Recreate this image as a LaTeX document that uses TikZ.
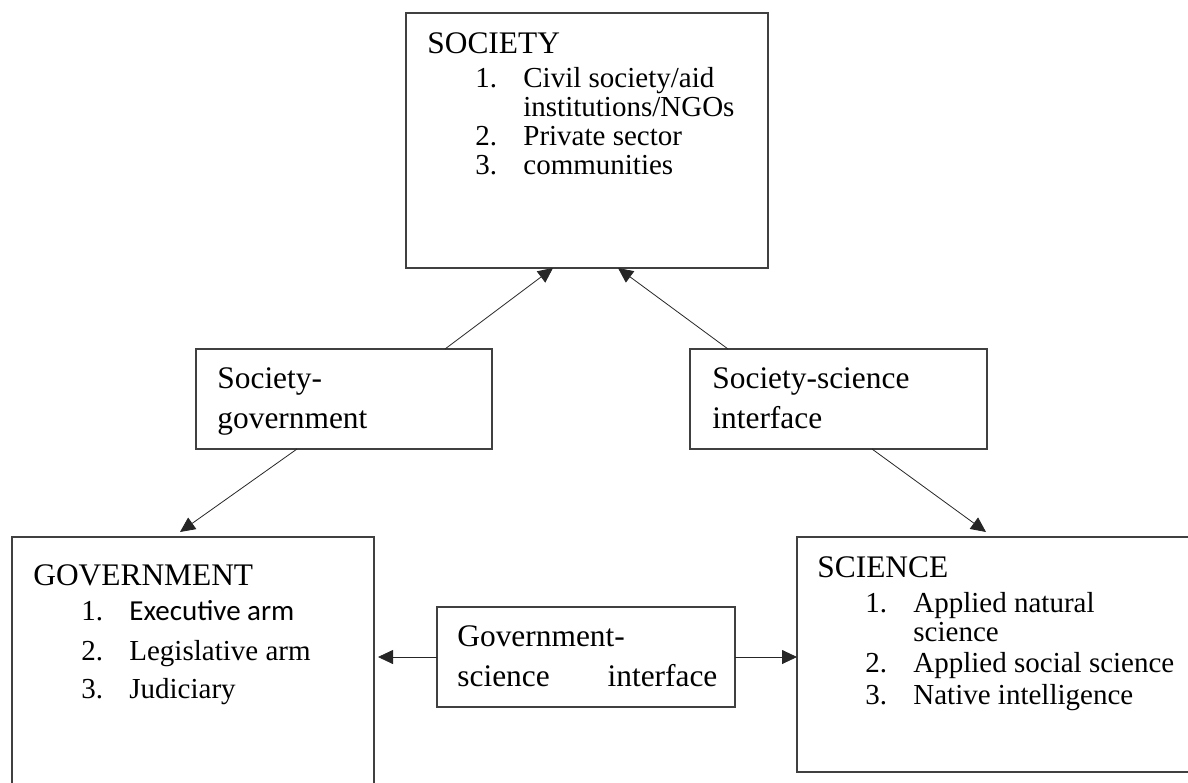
\documentclass[tikz,border=0pt]{standalone}
\usepackage{fontspec}
\setmainfont{Liberation Serif}
\newfontfamily\calibrifont{Carlito}
\usetikzlibrary{calc, arrows.meta}

\newcommand{\headsize}{\fontsize{15.7}{20}\selectfont}
\newcommand{\listsize}{\fontsize{14.5}{14.5}\selectfont}

\begin{document}
\begin{tikzpicture}[
      x=0.5pt, y=-0.5pt,
      box/.style={draw=black!75, line width=0.55pt, inner sep=0pt, outer sep=0pt},
      head/.style={anchor=base west, inner sep=0pt, font=\headsize},
      list/.style={anchor=base west, inner sep=0pt, font=\listsize},
      arr/.style={-{Triangle[length=7.5pt, width=7pt]}, line width=0.4pt, black!85}
   ]
      \useasboundingbox (0,0) rectangle (1188,782);
      \clip (0,0) rectangle (1188,782);

      % the three main boxes
      \node[box, minimum width=181pt, minimum height=127.5pt] (soc) at (587,140.5) {};
      \node[box, minimum width=181pt, minimum height=141.5pt] (gov) at (193,678.5) {};
      \node[box, minimum width=201.5pt, minimum height=117.5pt] (sci) at (998.5,654.5) {};

      % the interface boxes
      \node[box, minimum width=148pt, minimum height=50pt] (sg) at (344,399) {};
      \node[box, minimum width=148.5pt, minimum height=50pt] (ss) at (838.5,399) {};
      \node[box, minimum width=149pt, minimum height=50pt] (gs) at (586,657) {};

      % texts
      \node[head] (socHead) at ($(soc.north west)+(21,40)$) {SOCIETY};
      \node[list] (socList) at ($(socHead.base west)+(0,34)$) {%
         \begin{tabular}[t]{@{}p{24pt}@{}p{24pt}@{}l@{}}
            & 1. & Civil society/aid\\
            &    & institutions/NGOs\\
            & 2. & Private sector\\
            & 3. & communities
         \end{tabular}};

      \node[head] (govHead) at ($(gov.north west)+(21,48)$) {GOVERNMENT};
      \node[list] (govList) at ($(govHead.base west)+(0,35)$) {%
         \begin{tabular}[t]{@{}p{24pt}@{}p{24pt}@{}l@{}}
            & 1. & {\calibrifont Executive arm}\\[5.5pt]
            & 2. & Legislative arm\\[4.5pt]
            & 3. & Judiciary
         \end{tabular}};

      \node[head] (sciHead) at ($(sci.north west)+(20,40)$) {SCIENCE};
      \node[list] (sciList) at ($(sciHead.base west)+(0,35)$) {%
         \begin{tabular}[t]{@{}p{24pt}@{}p{24pt}@{}l@{}}
            & 1. & Applied natural\\
            &    & science\\[1pt]
            & 2. & Applied social science\\[1.5pt]
            & 3. & Native intelligence
         \end{tabular}};

      \node[head] (sgText) at ($(sg.north west)+(21,39)$) {%
         \begin{tabular}[t]{@{}l@{}}Society-\\government\end{tabular}};
      \node[head] (ssText) at ($(ss.north west)+(22,39)$) {%
         \begin{tabular}[t]{@{}l@{}}Society-science\\interface\end{tabular}};
      \node[head] (gsText) at ($(gs.north west)+(20,39)$) {%
         \begin{tabular}[t]{@{}l@{}}Government-\\\makebox[130pt][s]{science interface}\end{tabular}};

      % connectors
      \draw[arr] ($(sg.north west)+(249,0)$) -- ($(soc.south west)+(147,0)$);
      \draw[arr] ($(ss.north west)+(38,0)$) -- ($(soc.south west)+(212,0)$);
      \draw[arr] ($(sg.south west)+(101,0)$) -- ($(gov.north west)+(168,-5)$);
      \draw[arr] ($(ss.south west)+(182,0)$) -- ($(sci.north west)+(189,-5)$);
      \draw[arr] (gs.west) -- ($(gs.west -| gov.east)+(4,0)$);
      \draw[arr] (gs.east) -- (gs.east -| sci.west);
   \end{tikzpicture}
\end{document}
